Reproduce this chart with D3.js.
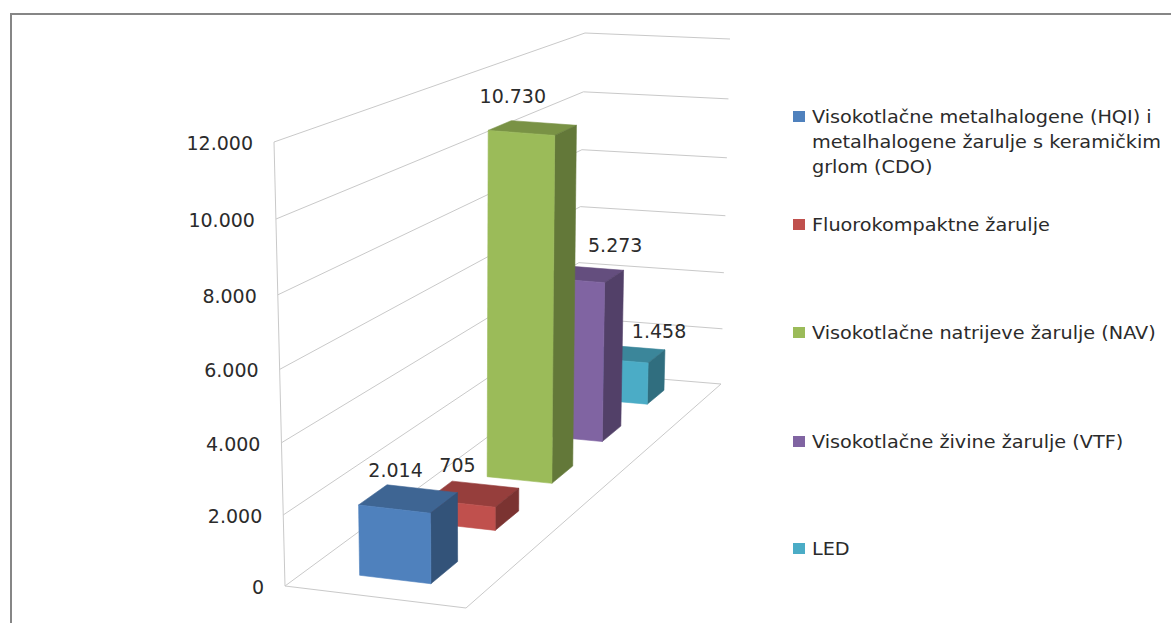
<!DOCTYPE html>
<html>
<head>
<meta charset="utf-8">
<script src="https://cdn.jsdelivr.net/npm/d3@7"></script>
<style>
	html, body { margin: 0; padding: 0; background: #fff; }
	svg { display: block; }
	text { font-family: "DejaVu Sans", sans-serif; fill: #2b2b2b; }
</style>
</head>
<body>
<div id="chart"></div>
<script>
// Data
const categories = [
	"Visokotlačne metalhalogene (HQI) i metalhalogene žarulje s keramičkim grlom (CDO)",
	"Fluorokompaktne žarulje",
	"Visokotlačne natrijeve žarulje (NAV)",
	"Visokotlačne živine žarulje (VTF)",
	"LED",
];
const values = [2014, 705, 10730, 5273, 1458];
const valueTicks = [0, 2000, 4000, 6000, 8000, 10000, 12000];
const legendLines = [
	["Visokotlačne metalhalogene (HQI) i", "metalhalogene žarulje s keramičkim", "grlom (CDO)"],
	["Fluorokompaktne žarulje"],
	["Visokotlačne natrijeve žarulje (NAV)"],
	["Visokotlačne živine žarulje (VTF)"],
	["LED"],
];
const colors = ["#4f81bd", "#c0504d", "#9bbb59", "#8064a2", "#4bacc6"];

// Layout
const width = 1171,
	height = 623;
const fmt = d3.formatLocale({ decimal: ",", thousands: ".", grouping: [3], currency: ["", ""] }).format(",d");

// corners of the 3D box on screen: [front/back][left/right][bottom/top]
const box = {
	fl0: [285, 586], fl1: [274, 142],
	fr0: [466, 608], fr1: [466, 161],
	bl0: [576, 372], bl1: [585, 33],
	br0: [721, 384], br1: [730, 39],
};
const depthPersp = 0.745,
	heightPersp = 1.05;
const barAcross = [0.29, 0.69];
const labelShift = [[-13, -29], [-16, -29], [-20, -32], [32, -29], [32, -23]];
const legendY = [117, 225, 333, 442, 549];

const persp = (f, r) => f / (f + (1 - f) * r);

// Scales
const depth = d3.scaleBand().domain(d3.range(categories.length)).range([0, 1]).paddingInner(0.6).paddingOuter(0.3);
const level = d3.scaleLinear().domain([0, 12000]).range([0, 1]);

// d = depth 0..1, a = across 0..1, v = value
function project(d, a, v) {
	const t = persp(d, depthPersp),
		h = persp(level(v), heightPersp);
	const lerp = (p, q, k) => [p[0] + (q[0] - p[0]) * k, p[1] + (q[1] - p[1]) * k];
	const front = lerp(lerp(box.fl0, box.fr0, a), lerp(box.fl1, box.fr1, a), h);
	const back = lerp(lerp(box.bl0, box.br0, a), lerp(box.bl1, box.br1, a), h);
	return lerp(front, back, t);
}

const line = d3.line();
const shade = (c, k) => {
	const r = d3.rgb(c);
	return d3.rgb(r.r * k, r.g * k, r.b * k).formatHex();
};

const svg = d3.select("#chart").append("svg").attr("width", width).attr("height", height);

// Outer frame
svg.append("path")
	.attr("d", `M11,${height}V14H${width}`)
	.attr("fill", "none")
	.attr("stroke", "#868686")
	.attr("stroke-width", 2);

// Walls and floor
const grid = svg.append("g").attr("fill", "none").attr("stroke", "#c9c9c9").attr("stroke-width", 1);
grid.selectAll("path.wall")
	.data(valueTicks)
	.join("path")
	.attr("class", "wall")
	.attr("d", (v) => line([project(0, 0, v), project(1, 0, v), project(1, 1, v)]));
grid.append("path").attr("d", line([project(0, 0, 0), project(0, 0, 12000)]));
grid.append("path").attr("d", line([project(0, 0, 0), project(0, 1, 0), project(1, 1, 0)]));

// Value axis labels
svg.append("g")
	.selectAll("text")
	.data(valueTicks)
	.join("text")
	.attr("x", (v) => project(0, 0, v)[0] - 21)
	.attr("y", (v) => project(0, 0, v)[1] + 1)
	.attr("dy", "0.36em")
	.attr("text-anchor", "end")
	.attr("font-size", 19)
	.text((v) => fmt(v));

// Bars, back to front
const order = d3.range(categories.length).reverse();
const bars = svg.append("g")
	.selectAll("g")
	.data(order)
	.join("g");

bars.each(function (i) {
	const g = d3.select(this);
	const d0 = depth(i),
		d1 = d0 + depth.bandwidth();
	const [a0, a1] = barAcross;
	const v = values[i];
	const face = (color, points) =>
		g.append("path")
			.attr("fill", color)
			.attr("stroke", color) // hides the seam between faces
			.attr("stroke-width", 0.6)
			.attr("d", line(points) + "Z");
	// top
	face(shade(colors[i], 0.78), [project(d0, a0, v), project(d0, a1, v), project(d1, a1, v), project(d1, a0, v)]);
	// right side
	face(shade(colors[i], 0.64), [project(d0, a1, 0), project(d0, a1, v), project(d1, a1, v), project(d1, a1, 0)]);
	// front
	face(colors[i], [project(d0, a0, 0), project(d0, a0, v), project(d0, a1, v), project(d0, a1, 0)]);
});

// Data labels
svg.append("g")
	.selectAll("text")
	.data(values)
	.join("text")
	.attr("x", (v, i) => project(depth(i) + depth.bandwidth() / 2, d3.mean(barAcross), v)[0] + labelShift[i][0])
	.attr("y", (v, i) => project(depth(i) + depth.bandwidth() / 2, d3.mean(barAcross), v)[1] + labelShift[i][1])
	.attr("dy", "0.36em")
	.attr("text-anchor", "middle")
	.attr("font-size", 19)
	.text((v) => fmt(v));

// Legend, the text is a little stretched in the original
const legend = svg.append("g")
	.selectAll("g")
	.data(categories)
	.join("g")
	.attr("transform", (d, i) => `translate(793,${legendY[i]})`);
legend.append("rect")
	.attr("y", -6)
	.attr("width", 12)
	.attr("height", 11)
	.attr("fill", (d, i) => colors[i]);
legend.each(function (d, i) {
	d3.select(this)
		.selectAll("text")
		.data(legendLines[i])
		.join("text")
		.attr("transform", (l, j) => `translate(19,${j * 25}) scale(1.1,1)`)
		.attr("dy", "0.36em")
		.attr("font-size", 17.5)
		.text((l) => l);
});
</script>
</body>
</html>
